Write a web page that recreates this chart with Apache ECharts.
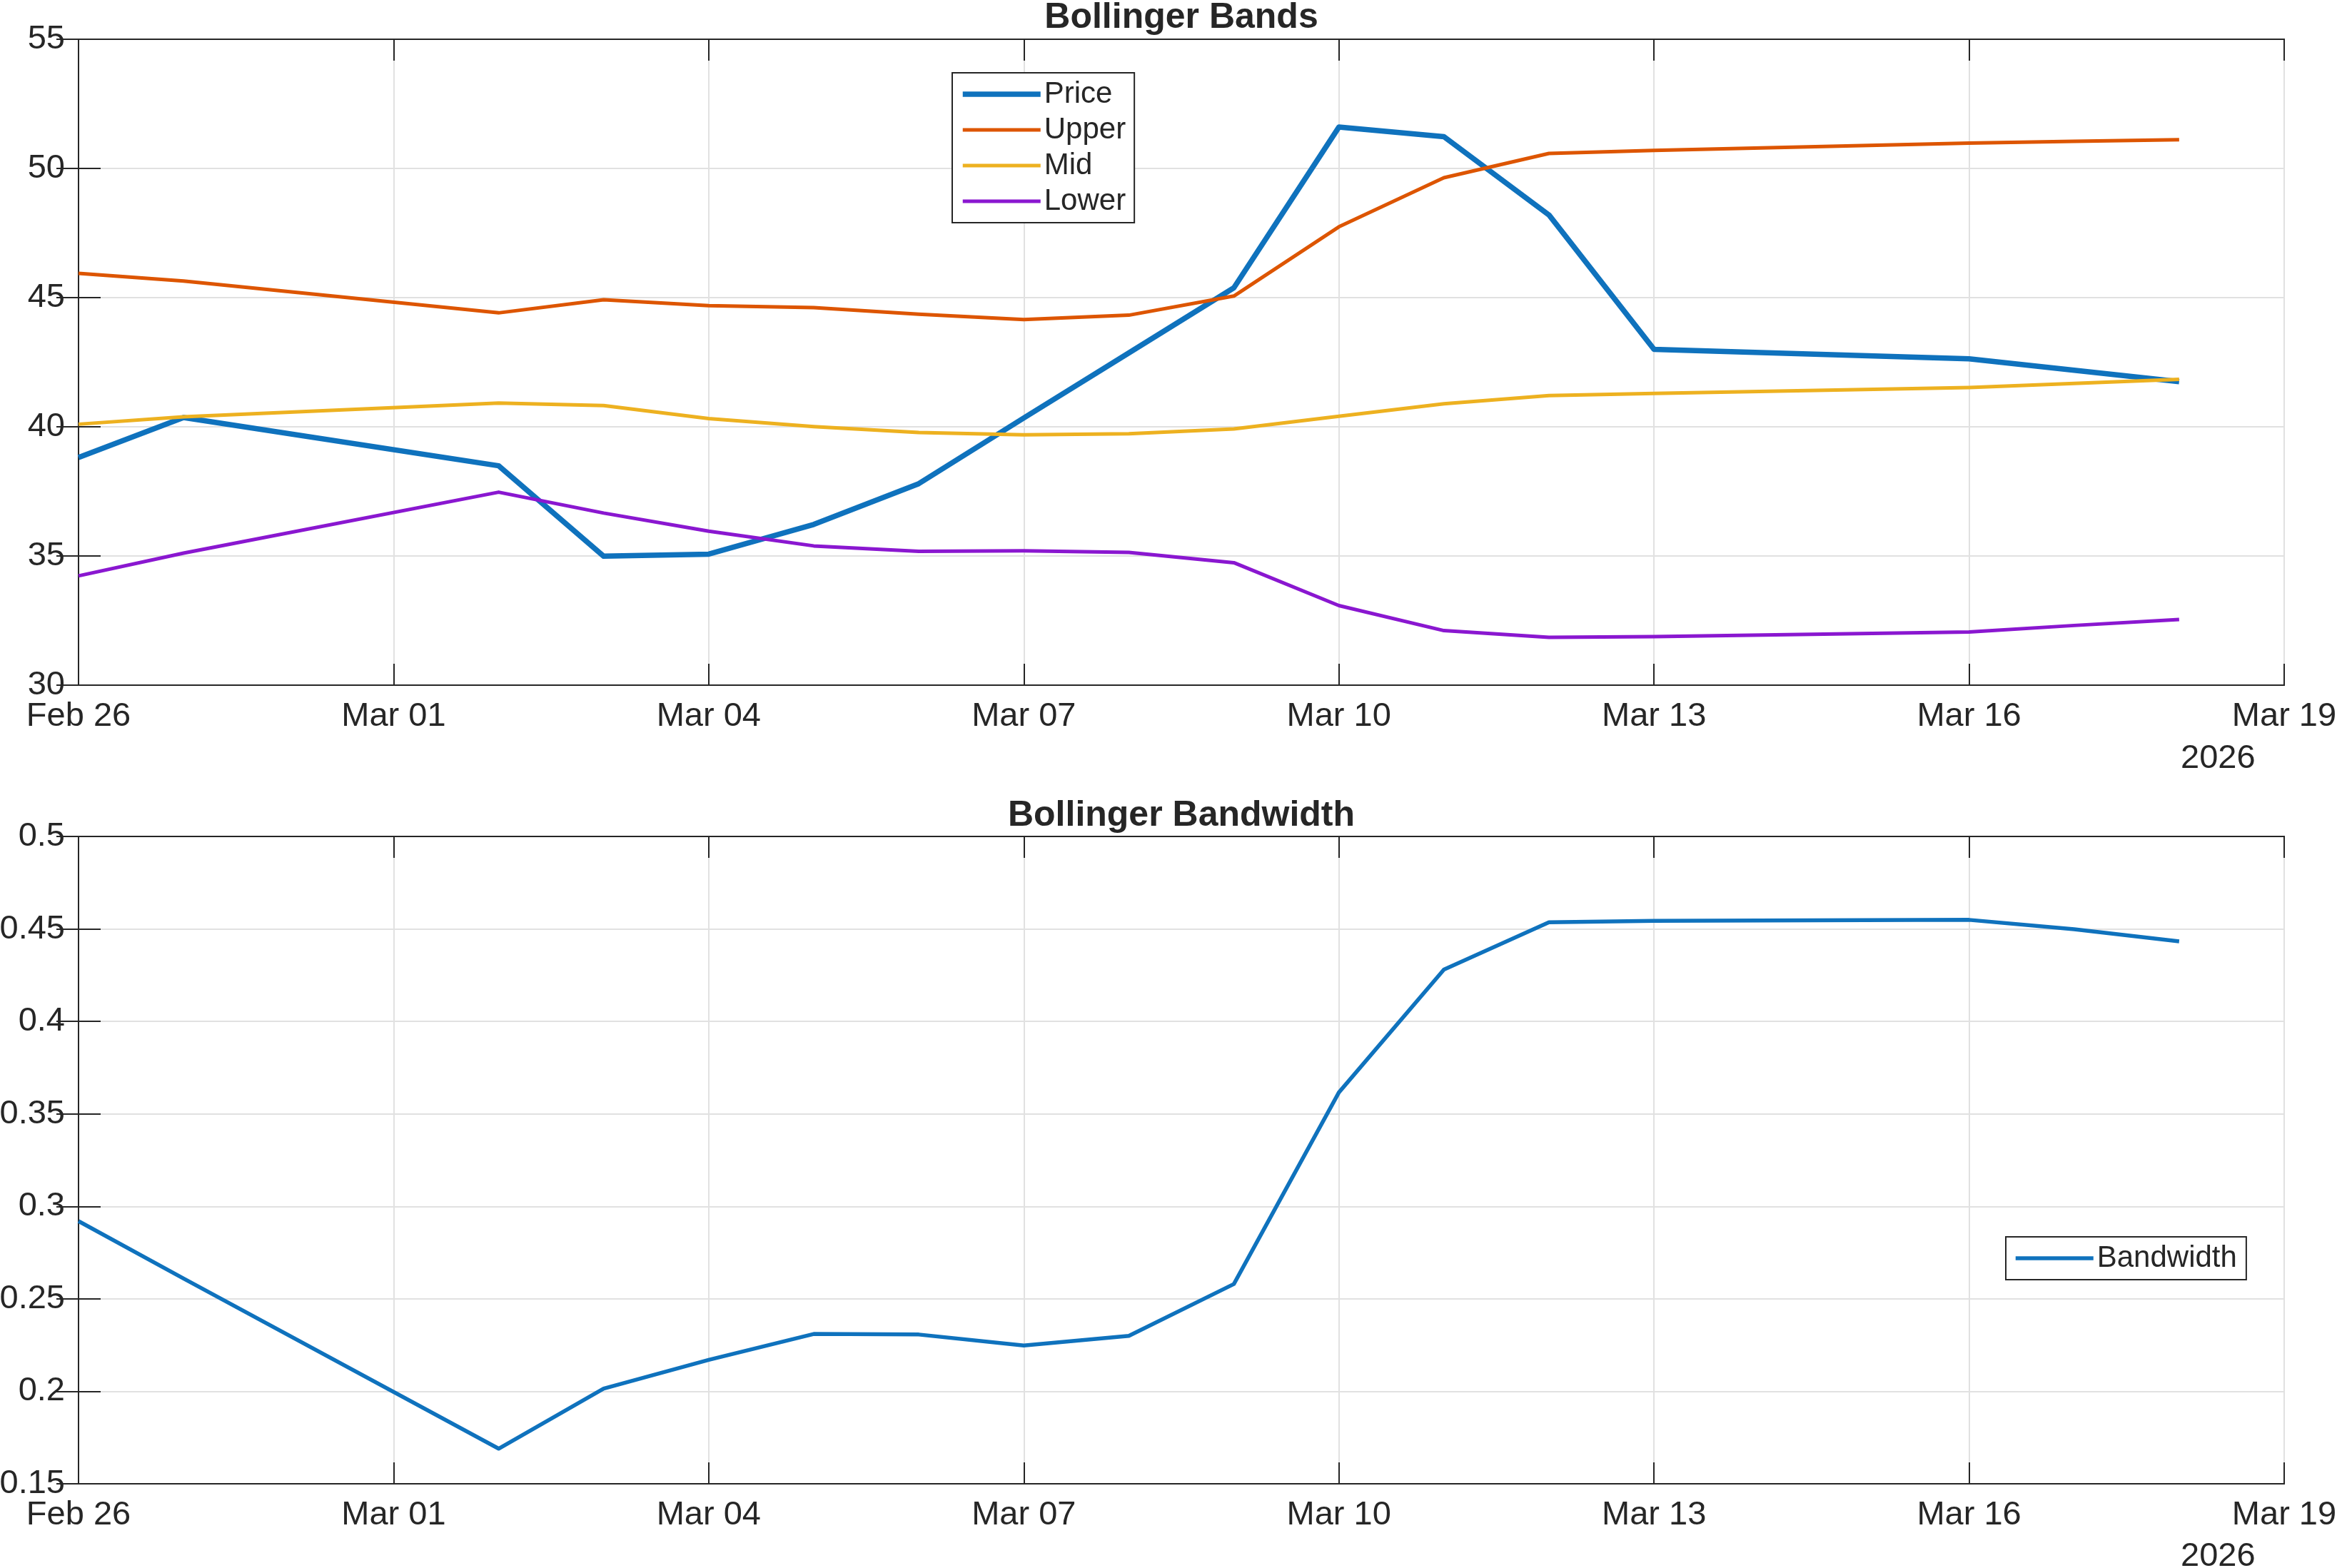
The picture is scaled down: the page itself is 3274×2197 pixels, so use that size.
<!DOCTYPE html>
<html>
<head>
<meta charset="utf-8">
<title>Bollinger Bands</title>
<script src="https://cdn.jsdelivr.net/npm/echarts@6/dist/echarts.min.js"></script>
<style>
  html, body { margin: 0; padding: 0; background: #fff; }
  #main { width: 3274px; height: 2197px; }
</style>
</head>
<body>
<div id="main"></div>
<script>
// trading dates shown in both panels
var dates = ['2026-02-26', '2026-02-27', '2026-03-02', '2026-03-03', '2026-03-04', '2026-03-05',
             '2026-03-06', '2026-03-07', '2026-03-08', '2026-03-09', '2026-03-10', '2026-03-11',
             '2026-03-12', '2026-03-13', '2026-03-16', '2026-03-17', '2026-03-18'];
var price = [38.81, 40.36, 38.49, 34.99, 35.07, 36.22, 37.80, 40.34, 42.86, 45.38, 51.60, 51.23,
             48.20, 43.00, 42.63, 42.19, 41.75];
var upper = [45.94, 45.64, 44.41, 44.92, 44.69, 44.61, 44.36, 44.15, 44.32, 45.06, 47.74, 49.64,
             50.58, 50.70, 50.98, 51.05, 51.11];
var mid   = [40.10, 40.39, 40.92, 40.82, 40.32, 40.01, 39.78, 39.69, 39.73, 39.92, 40.41, 40.89,
             41.21, 41.29, 41.52, 41.68, 41.84];
var lower = [34.23, 35.11, 37.47, 36.66, 35.96, 35.39, 35.18, 35.20, 35.14, 34.74, 33.08, 32.11,
             31.85, 31.88, 32.06, 32.31, 32.54];
var bandwidth = [0.292, 0.261, 0.169, 0.2015, 0.217, 0.231, 0.2307, 0.2248, 0.230, 0.258, 0.3616, 0.428,
                 0.4536, 0.4544, 0.4549, 0.4498, 0.4433];

// axis ranges / ticks
var xStart = '2026-02-26', xEnd = '2026-03-19', xStepDays = 3;
var bandsTicks = [30, 55, 5];
var widthTicks = [0.15, 0.5, 0.05];
var yearLabel = '2026';

var MONTHS = ['Jan', 'Feb', 'Mar', 'Apr', 'May', 'Jun', 'Jul', 'Aug', 'Sep', 'Oct', 'Nov', 'Dec'];
function toUTC(s) { var p = s.split('-'); return Date.UTC(+p[0], +p[1] - 1, +p[2]); }
var T0 = toUTC(xStart);
function dayOf(s) { return Math.round((toUTC(s) - T0) / 86400000); }
function dayLabel(n) {
    var d = new Date(T0 + n * 86400000);
    return MONTHS[d.getUTCMonth()] + ' ' + ('0' + d.getUTCDate()).slice(-2);
}
function pairs(vals) { return dates.map(function (d, i) { return [dayOf(d), vals[i]]; }); }

var FONT = "'Liberation Sans', Arial, Helvetica, sans-serif";
var INK = '#262626';
var GRIDC = '#e1e1e1';
var TICKFONT = 47;

function xAxes(gi) {
    return [{
        type: 'value', gridIndex: gi, position: 'bottom',
        min: 0, max: dayOf(xEnd), interval: xStepDays,
        axisLine: { show: true, lineStyle: { color: INK, width: 2 } },
        axisTick: { show: true, inside: true, length: 30, lineStyle: { color: INK, width: 2 } },
        axisLabel: { show: true, margin: 21, color: INK, fontSize: TICKFONT, fontFamily: FONT, formatter: dayLabel },
        splitLine: { show: true, lineStyle: { color: GRIDC, width: 2 } }
    }, {
        type: 'value', gridIndex: gi, position: 'top',
        min: 0, max: dayOf(xEnd), interval: xStepDays,
        axisLine: { show: true, lineStyle: { color: INK, width: 2 } },
        axisTick: { show: true, inside: true, length: 30, lineStyle: { color: INK, width: 2 } },
        axisLabel: { show: false },
        splitLine: { show: false }
    }];
}
function yAxes(gi, t) {
    return [{
        type: 'value', gridIndex: gi, position: 'left',
        min: t[0], max: t[1], interval: t[2],
        axisLine: { show: true, lineStyle: { color: INK, width: 2 } },
        axisTick: { show: true, inside: true, length: 31, lineStyle: { color: INK, width: 2 } },
        axisLabel: { show: true, margin: 19, color: INK, fontSize: TICKFONT, fontFamily: FONT },
        splitLine: { show: true, lineStyle: { color: GRIDC, width: 2 } }
    }, {
        type: 'value', gridIndex: gi, position: 'right',
        min: t[0], max: t[1], interval: t[2],
        axisLine: { show: true, lineStyle: { color: INK, width: 2 } },
        axisTick: { show: true, inside: true, length: 31, lineStyle: { color: INK, width: 2 } },
        axisLabel: { show: false },
        splitLine: { show: false }
    }];
}

function line(name, vals, color, width, xi, yi) {
    return {
        name: name, type: 'line', xAxisIndex: xi, yAxisIndex: yi,
        data: pairs(vals), symbol: 'none', animation: false,
        lineStyle: { color: color, width: width, join: 'round' },
        itemStyle: { color: color }
    };
}

var legendBase = {
    orient: 'vertical', itemWidth: 109, itemHeight: 14, itemGap: 8,
    backgroundColor: '#fff', borderColor: INK, borderWidth: 2,
    textStyle: { color: INK, fontSize: 42, fontFamily: FONT, lineHeight: 41 },
    lineStyle: { width: 'inherit' },
    itemStyle: { opacity: 0, borderWidth: 0 },
    selectedMode: false
};

var chart = echarts.init(document.getElementById('main'));
chart.setOption({
    backgroundColor: '#fff',
    animation: false,
    title: [
        { text: 'Bollinger Bands', left: 1655, top: 0, textAlign: 'center', padding: 0,
          textStyle: { fontSize: 50, fontWeight: 'bold', color: INK, fontFamily: FONT } },
        { text: 'Bollinger Bandwidth', left: 1655, top: 1118, textAlign: 'center', padding: 0,
          textStyle: { fontSize: 50, fontWeight: 'bold', color: INK, fontFamily: FONT } }
    ],
    grid: [
        { left: 110, right: 74, top: 55, height: 905, show: true, borderColor: INK, borderWidth: 2,
          backgroundColor: '#fff', outerBoundsMode: 'none', containLabel: false },
        { left: 110, right: 74, top: 1172, height: 907, show: true, borderColor: INK, borderWidth: 2,
          backgroundColor: '#fff', outerBoundsMode: 'none', containLabel: false }
    ],
    xAxis: xAxes(0).concat(xAxes(1)),
    yAxis: yAxes(0, bandsTicks).concat(yAxes(1, widthTicks)),
    legend: [
        Object.assign({}, legendBase, { left: 1334, top: 102, padding: [9, 12, 9, 11],
            data: ['Price', 'Upper', 'Mid', 'Lower'] }),
        Object.assign({}, legendBase, { left: 2810, top: 1733, padding: [9, 13, 9, 11],
            data: ['Bandwidth'] })
    ],
    graphic: [
        { type: 'text', left: 3055, top: 1040, style: { text: yearLabel, font: TICKFONT + 'px ' + FONT, fill: INK } },
        { type: 'text', left: 3055, top: 2158, style: { text: yearLabel, font: TICKFONT + 'px ' + FONT, fill: INK } }
    ],
    series: [
        line('Price', price, '#0f72bd', 7.5, 0, 0),
        line('Upper', upper, '#dd5500', 5, 0, 0),
        line('Mid', mid, '#edb120', 5, 0, 0),
        line('Lower', lower, '#8a17d0', 5, 0, 0),
        line('Bandwidth', bandwidth, '#0f72bd', 5.5, 2, 2)
    ]
});
</script>
</body>
</html>
